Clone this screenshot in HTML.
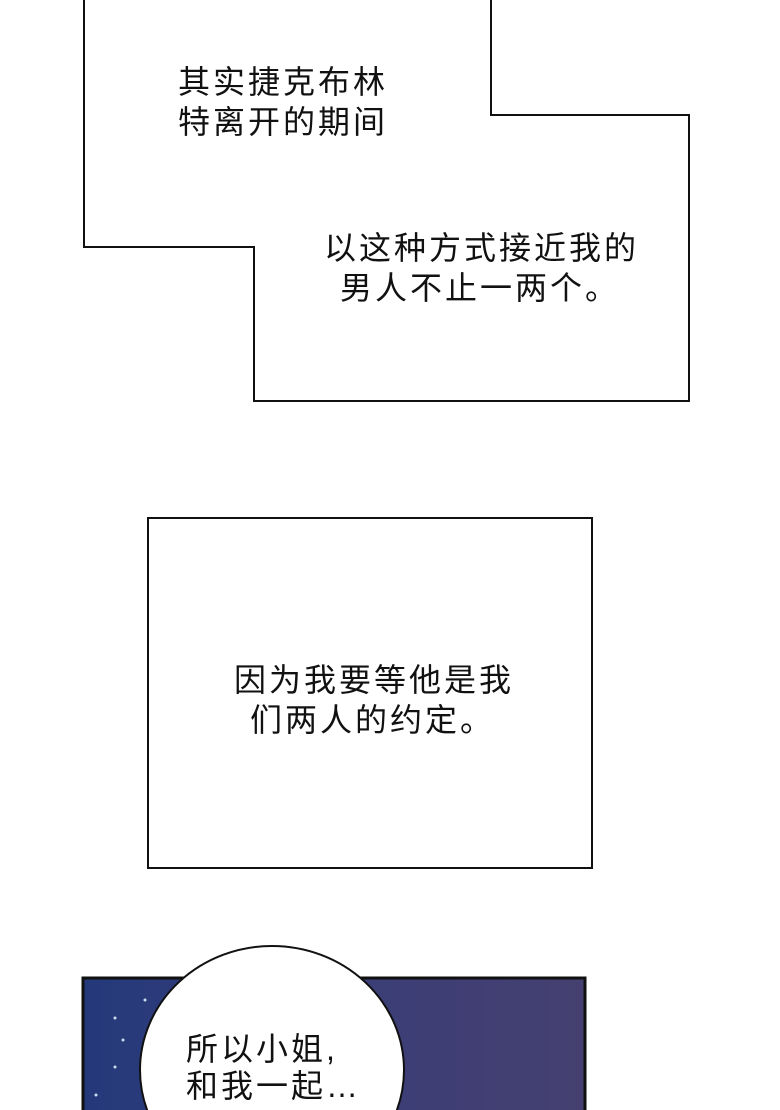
<!DOCTYPE html>
<html><head><meta charset="utf-8"><style>
html,body{margin:0;width:780px;height:1110px;background:#fff;overflow:hidden;position:relative;font-family:"Liberation Sans","Noto Sans CJK SC",sans-serif}
svg{display:block}
.t{position:absolute;font-size:32px;letter-spacing:3px;line-height:40px;color:#111;white-space:nowrap}
</style></head><body>
<svg width="780" height="1110" style="position:absolute;left:0;top:0">
<defs><linearGradient id="g" x1="0" x2="1" y1="0" y2="0"><stop offset="0" stop-color="#24397a"/><stop offset="0.5" stop-color="#3a3d78"/><stop offset="1" stop-color="#454070"/></linearGradient></defs>
<polygon points="84,-5 84,247 254,247 254,401 689,401 689,115 491,115 491,-5" fill="#fff" stroke="#111" stroke-width="2"/>
<rect x="148" y="518" width="444" height="350" fill="#fff" stroke="#111" stroke-width="2"/>
<rect x="83" y="978" width="502" height="135" fill="url(#g)" stroke="#111" stroke-width="3"/>
<circle cx="145" cy="1000" r="1.5" fill="#cde"/><circle cx="115" cy="1018" r="1.5" fill="#cde"/><circle cx="123" cy="1040" r="1.5" fill="#cde"/><circle cx="115" cy="1067" r="1.5" fill="#cde"/><circle cx="96" cy="1095" r="1.5" fill="#cde"/>
<ellipse cx="272" cy="1070" rx="132" ry="124" fill="#fff" stroke="#111" stroke-width="2"/>
</svg>
<div class="t" style="left:178px;top:62px">其实捷克布林<br>特离开的期间</div>
<div class="t" style="left:324px;top:228px">以这种方式接近我的<br><span style="padding-left:16px">男人不止一两个。</span></div>
<div class="t" style="left:234px;top:660px">因为我要等他是我<br><span style="padding-left:16px">们两人的约定。</span></div>
<div class="t" style="left:186px;top:1031px;line-height:37px">所以小姐,<br>和我一起…</div>
</body></html>
